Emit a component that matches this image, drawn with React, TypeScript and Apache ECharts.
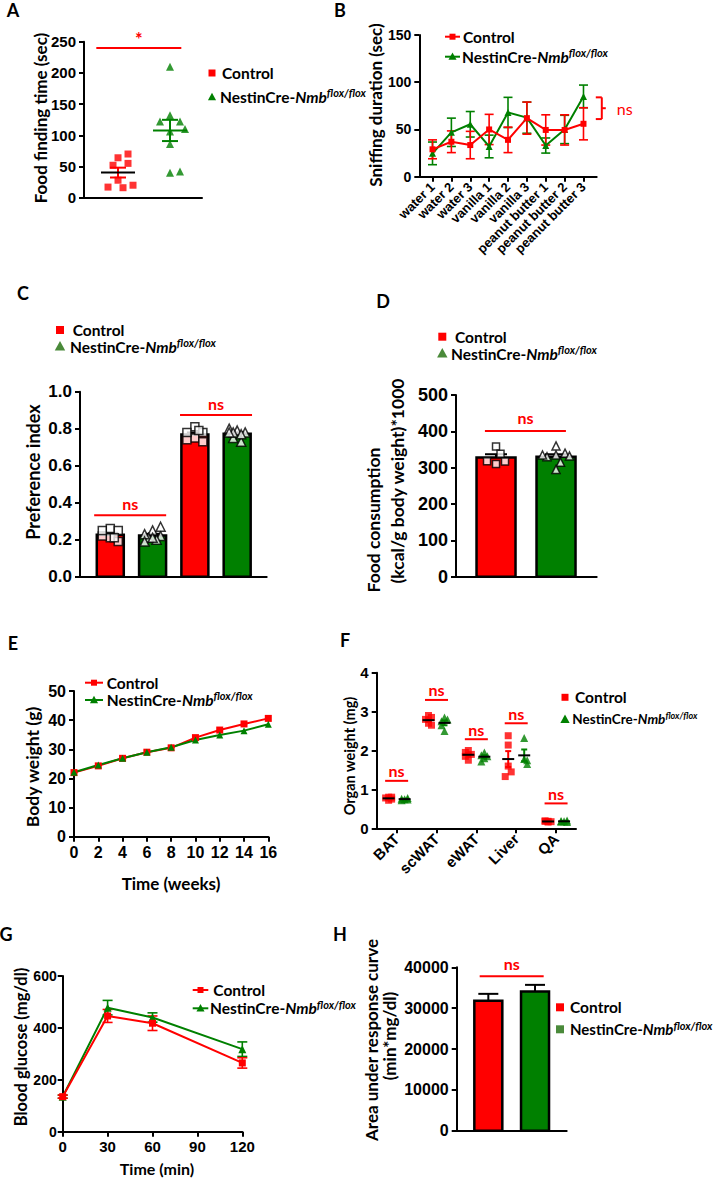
import React, { useEffect, useRef } from 'react';
import * as echarts from 'echarts';

const RED = '#ff0000';
const GREEN = '#008000';
const LEG_GREEN = '#4a8a3a';
const TICK_FONT = '"Liberation Sans", Arial, sans-serif';
const LABEL_FONT = 'Lato, "Open Sans", sans-serif';

// ---------- Panel A: food finding time (sec) ----------
const A_CONTROL = [64, 70, 55, 52, 28, 16, 17, 20];
const A_NESTIN = [210, 132, 122, 122, 106, 110, 86, 40, 42];

// ---------- Panel B: sniffing duration (sec) ----------
const B_CATEGORIES = ['water 1', 'water 2', 'water 3', 'vanilla 1', 'vanilla 2', 'vanilla 3', 'peanut butter 1', 'peanut butter 2', 'peanut butter 3'];
const B_CONTROL_MEAN = [29, 37, 33.5, 50, 39, 62, 49.5, 49.5, 56];
const B_CONTROL_SEM = [10, 11.5, 14.5, 16, 13.5, 17, 16, 16, 17];
const B_NESTIN_MEAN = [24.7, 47, 55.5, 32, 68, 62.5, 33, 50, 85];
const B_NESTIN_SEM = [12, 15, 13.5, 12, 16, 16.5, 8, 15, 12];
const B_BRACKET = [84, 61];

// ---------- Panel C: preference index ----------
const C_CONTROL_1 = [0.26, 0.21, 0.25, 0.22, 0.25, 0.19, 0.21];
const C_NESTIN_1 = [0.25, 0.22, 0.27, 0.21, 0.23, 0.2, 0.21, 0.19];
const C_CONTROL_2 = [0.81, 0.75, 0.78, 0.74, 0.78, 0.73, 0.79];
const C_NESTIN_2 = [0.79, 0.78, 0.8, 0.75, 0.78, 0.73, 0.77, 0.78];
const C_SIG = [[0.47, 0.332], [2.5, 0.874]];

// ---------- Panel D: food consumption ----------
const D_CONTROL = [310, 358, 338, 317, 318];
const D_NESTIN = [335, 340, 360, 315, 295, 330, 335, 332];
const D_SIG = [[0.49, 401]];

// ---------- Panel E: body weight ----------
const E_WEEKS = [0, 2, 4, 6, 8, 10, 12, 14, 16];
const E_CONTROL = [22, 24.3, 26.9, 29, 30.5, 34, 36.6, 38.7, 40.6];
const E_NESTIN = [22.1, 24.6, 26.9, 29, 30.7, 33.2, 34.9, 36.4, 38.6];

// ---------- Panel F: organ weight ----------
const F_ORGANS = ['BAT', 'scWAT', 'eWAT', 'Liver', 'QA'];
const F_CONTROL = [
  [0.8, 0.75, 0.78, 0.72, 0.8],
  [2.9, 2.85, 2.7, 2.65, 2.8],
  [2.0, 1.9, 1.75, 1.85, 1.95],
  [2.38, 2.14, 1.6, 1.45, 1.33],
  [0.18, 0.17, 0.19, 0.18, 0.16],
];
const F_NESTIN = [
  [0.75, 0.78, 0.72, 0.76, 0.74],
  [2.85, 2.8, 2.5, 2.65, 2.75],
  [1.95, 1.85, 1.72, 1.88, 1.8],
  [2.32, 1.78, 1.65, 1.75],
  [0.18, 0.2, 0.17, 0.19, 0.16],
];
const F_SIG_Y = [1.22, 3.3, 2.29, 2.7, 0.64];

// ---------- Panel G: glucose tolerance ----------
const G_TIMES = [0, 30, 60, 120];
const G_CONTROL_MEAN = [135, 446, 418, 265];
const G_CONTROL_SEM = [6, 25, 28, 20];
const G_NESTIN_MEAN = [135, 478, 440, 318];
const G_NESTIN_SEM = [6, 28, 18, 28];

// ---------- Panel H: AUC ----------
const H_MEANS = [31800, 34100];
const H_SEMS = [1700, 1600];
const H_SIG = [[0.5, 37800]];

const mean = (a: number[]) => a.reduce((s, v) => s + v, 0) / a.length;
const sem = (a: number[]) => {
  const m = mean(a);
  const sd = Math.sqrt(a.reduce((s, v) => s + (v - m) * (v - m), 0) / (a.length - 1));
  return sd / Math.sqrt(a.length);
};

// deterministic beeswarm offsets in pixels, limited to +-maxOff
function swarm(vals: number[], ppu: number, d: number, step: number, maxOff = 999) {
  const placed: number[][] = [];
  return vals.map((v) => {
    const y = v * ppu;
    let best = 0;
    let bestDist = -1;
    for (let t = 0; t < 80; t++) {
      const c = t === 0 ? 0 : (t % 2 ? 1 : -1) * Math.ceil(t / 2) * step;
      if (Math.abs(c) > maxOff) break;
      const md = placed.length ? Math.min(...placed.map((p) => Math.hypot(p[0] - c, p[1] - y))) : 1e9;
      if (md >= d) {
        best = c;
        break;
      }
      if (md > bestDist) {
        bestDist = md;
        best = c;
      }
    }
    placed.push([best, y]);
    return best;
  });
}

const GRIDS = [
  { left: 84, top: 41.7, width: 118, height: 156 },
  { left: 419.3, top: 35, width: 177.4, height: 141.7 },
  { left: 80, top: 391.7, width: 186.7, height: 185 },
  { left: 456, top: 395, width: 140.7, height: 181.7 },
  { left: 74, top: 691, width: 194.3, height: 145.7 },
  { left: 376.7, top: 672.7, width: 199.3, height: 155.6 },
  { left: 62.7, top: 976, width: 179.6, height: 155.7 },
  { left: 456.7, top: 967.3, width: 110, height: 163.4 },
];

const axisLine = { show: true, onZero: false, lineStyle: { color: '#000', width: 2 } };
const axisTick = { show: true, length: 5, lineStyle: { color: '#000', width: 2 } };
const tickLabel = (fs: number, extra: any = {}) => ({
  show: true, color: '#000', fontSize: fs, fontWeight: 'bold', fontFamily: TICK_FONT, margin: 8, ...extra,
});

function valY(gi: number, min: number, max: number, interval: number, fs: number, fmt?: any, margin = 8) {
  return {
    type: 'value', gridIndex: gi, min, max, interval,
    axisLine, axisTick, axisLabel: tickLabel(fs, { margin, formatter: fmt || ((v: number) => String(v)) }),
    splitLine: { show: false },
  };
}
function bareX(gi: number, min: number, max: number) {
  return {
    type: 'value', gridIndex: gi, min, max,
    axisLine, axisTick: { show: false }, axisLabel: { show: false }, splitLine: { show: false },
  };
}

// ---------- render helpers ----------
const meanSemRender = (semColor: string, meanColor: string, halfW: number, capW: number, offPx: number) =>
  (params: any, api: any) => {
    const x = api.value(0), m = api.value(1), s = api.value(2);
    const pm = api.coord([x, m]);
    const pt = api.coord([x, m + s]);
    const pb = api.coord([x, m - s]);
    const cx = pm[0] + offPx;
    const st = (c: string) => ({ stroke: c, lineWidth: 2 });
    return {
      type: 'group',
      children: [
        { type: 'line', shape: { x1: cx, y1: pt[1], x2: cx, y2: pb[1] }, style: st(semColor) },
        { type: 'line', shape: { x1: cx - capW, y1: pt[1], x2: cx + capW, y2: pt[1] }, style: st(semColor) },
        { type: 'line', shape: { x1: cx - capW, y1: pb[1], x2: cx + capW, y2: pb[1] }, style: st(semColor) },
        { type: 'line', shape: { x1: cx - halfW, y1: pm[1], x2: cx + halfW, y2: pm[1] }, style: st(meanColor) },
      ],
    };
  };

const barRender = (halfW: number, colors: string[], bw: number) => (params: any, api: any) => {
  const x = api.value(0), v = api.value(1);
  const p0 = api.coord([x, 0]);
  const p1 = api.coord([x, v]);
  return {
    type: 'rect',
    shape: { x: p0[0] - halfW, y: p1[1], width: halfW * 2, height: p0[1] - p1[1] },
    style: { fill: colors[params.dataIndex % colors.length], stroke: '#000', lineWidth: bw },
  };
};

const upErrRender = (capW: number) => (params: any, api: any) => {
  const x = api.value(0), m = api.value(1), s = api.value(2);
  const pm = api.coord([x, m]);
  const pt = api.coord([x, m + s]);
  return {
    type: 'group',
    children: [
      { type: 'line', shape: { x1: pm[0], y1: pm[1], x2: pm[0], y2: pt[1] }, style: { stroke: '#000', lineWidth: 2 } },
      { type: 'line', shape: { x1: pm[0] - capW, y1: pt[1], x2: pm[0] + capW, y2: pt[1] }, style: { stroke: '#000', lineWidth: 2 } },
    ],
  };
};

const errRender = (color: string, capW: number) => (params: any, api: any) => {
  const x = api.value(0), m = api.value(1), s = api.value(2);
  const pt = api.coord([x, m + s]);
  const pb = api.coord([x, m - s]);
  const st = { stroke: color, lineWidth: 1.6 };
  return {
    type: 'group',
    children: [
      { type: 'line', shape: { x1: pt[0], y1: pt[1], x2: pb[0], y2: pb[1] }, style: st },
      { type: 'line', shape: { x1: pt[0] - capW, y1: pt[1], x2: pt[0] + capW, y2: pt[1] }, style: st },
      { type: 'line', shape: { x1: pb[0] - capW, y1: pb[1], x2: pb[0] + capW, y2: pb[1] }, style: st },
    ],
  };
};

const sigRender = (txt: string, halfPx: number, gap: number, fs: number) => (params: any, api: any) => {
  const c = api.value(0), y = api.value(1);
  const p = api.coord([c, y]);
  return {
    type: 'group',
    children: [
      { type: 'line', shape: { x1: p[0] - halfPx, y1: p[1], x2: p[0] + halfPx, y2: p[1] }, style: { stroke: RED, lineWidth: 2 } },
      {
        type: 'text', x: p[0], y: p[1] - gap,
        style: { text: txt, fill: RED, fontSize: fs, fontWeight: 'bold', fontFamily: LABEL_FONT, align: 'center', verticalAlign: 'middle' },
      },
    ],
  };
};

const bracketRender = (params: any, api: any) => {
  const x = api.value(0), y1 = api.value(1), y2 = api.value(2);
  const a = api.coord([x, y1]);
  const b = api.coord([x, y2]);
  const mid = (a[1] + b[1]) / 2;
  const st = { stroke: RED, lineWidth: 2 };
  return {
    type: 'group',
    children: [
      { type: 'line', shape: { x1: a[0], y1: a[1], x2: b[0], y2: b[1] }, style: st },
      { type: 'line', shape: { x1: a[0] - 6, y1: a[1], x2: a[0], y2: a[1] }, style: st },
      { type: 'line', shape: { x1: b[0] - 6, y1: b[1], x2: b[0], y2: b[1] }, style: st },
      { type: 'line', shape: { x1: a[0], y1: mid, x2: a[0] + 4, y2: mid }, style: st },
      {
        type: 'text', x: a[0] + 15, y: mid,
        style: { text: 'ns', fill: RED, fontSize: 16, fontFamily: LABEL_FONT, fontWeight: 'normal', align: 'left', verticalAlign: 'middle' },
      },
    ],
  };
};

// ---------- graphic helpers ----------
const txt = (t: string, x: number, y: number, fs: number, opts: any = {}) => ({
  type: 'text', x, y, rotation: opts.rot ? Math.PI / 2 : 0,
  style: {
    text: t, fontSize: fs, fontWeight: 'bold', fontFamily: LABEL_FONT, fill: opts.color || '#000',
    align: opts.align || 'center', verticalAlign: 'middle',
  },
});
const nestin = (x: number, y: number, fs: number) => ({
  type: 'text', x, y,
  style: {
    text: '{a|NestinCre-}{b|Nmb}{c|flox/flox}', align: 'left', verticalAlign: 'middle',
    rich: {
      a: { fontSize: fs, fontWeight: 'bold', fontFamily: LABEL_FONT, fill: '#000', lineHeight: fs + 4 },
      b: { fontSize: fs, fontWeight: 'bold', fontStyle: 'italic', fontFamily: LABEL_FONT, fill: '#000', lineHeight: fs + 4 },
      c: { fontSize: Math.round(fs * 0.7), fontWeight: 'bold', fontStyle: 'italic', fontFamily: LABEL_FONT, fill: '#000', lineHeight: Math.round(fs * 0.7), verticalAlign: 'top' },
    },
  },
});
const sq = (x: number, y: number, s: number, color: string) => ({
  type: 'rect', shape: { x: x - s / 2, y: y - s / 2, width: s, height: s }, style: { fill: color },
});
const tri = (x: number, y: number, s: number, color: string) => ({
  type: 'polygon', shape: { points: [[x, y - s * 0.6], [x - s * 0.58, y + s * 0.45], [x + s * 0.58, y + s * 0.45]] }, style: { fill: color },
});
const lineLeg = (x1: number, x2: number, y: number, color: string, marker: 'sq' | 'tri') => [
  { type: 'line', shape: { x1, y1: y, x2, y2: y }, style: { stroke: color, lineWidth: 2 } },
  marker === 'sq' ? sq((x1 + x2) / 2, y, 6, color) : tri((x1 + x2) / 2, y, 7, color),
];

function buildOption() {
  const idx = B_CATEGORIES.map((_, i) => i);

  const aPpu = 156 / 250;
  const aCtrlOff = swarm(A_CONTROL, aPpu, 9, 5, 16);
  const aNesOff = swarm(A_NESTIN, aPpu, 9, 5, 16);

  const cGroups = [C_CONTROL_1, C_NESTIN_1, C_CONTROL_2, C_NESTIN_2];
  const cPpu = 185;
  const dGroups = [D_CONTROL, D_NESTIN];
  const dPpu = 181.7 / 500;
  const fPpu = 155.6 / 4;

  const series: any[] = [];

  // ---- A ----
  series.push({
    type: 'scatter', xAxisIndex: 0, yAxisIndex: 0, symbol: 'rect', symbolSize: 7, itemStyle: { color: RED },
    data: A_CONTROL.map((v, i) => ({ value: [0, v], symbolOffset: [aCtrlOff[i], 0] })),
  });
  series.push({
    type: 'scatter', xAxisIndex: 0, yAxisIndex: 0, symbol: 'triangle', symbolSize: 8, itemStyle: { color: GREEN },
    data: A_NESTIN.map((v, i) => ({ value: [1, v], symbolOffset: [aNesOff[i], 0] })),
  });
  series.push({
    type: 'custom', xAxisIndex: 0, yAxisIndex: 0, z: 5, renderItem: meanSemRender(RED, '#000', 17, 8, 0),
    data: [[0, mean(A_CONTROL), sem(A_CONTROL)]],
  });
  series.push({
    type: 'custom', xAxisIndex: 0, yAxisIndex: 0, z: 5, renderItem: meanSemRender(GREEN, GREEN, 17, 8, 0),
    data: [[1, mean(A_NESTIN), sem(A_NESTIN)]],
  });
  series.push({
    type: 'custom', xAxisIndex: 0, yAxisIndex: 0, renderItem: sigRender('*', 42.5, 9, 18),
    data: [[0.4, 240]],
  });

  // ---- B ----
  series.push({
    type: 'custom', xAxisIndex: 1, yAxisIndex: 1, renderItem: errRender(GREEN, 4.5),
    data: idx.map((i) => [i, B_NESTIN_MEAN[i], B_NESTIN_SEM[i]]),
  });
  series.push({
    type: 'line', xAxisIndex: 1, yAxisIndex: 1, symbol: 'triangle', symbolSize: 7,
    lineStyle: { color: GREEN, width: 2 }, itemStyle: { color: GREEN },
    data: idx.map((i) => [i, B_NESTIN_MEAN[i]]),
  });
  series.push({
    type: 'custom', xAxisIndex: 1, yAxisIndex: 1, renderItem: errRender(RED, 4.5),
    data: idx.map((i) => [i, B_CONTROL_MEAN[i], B_CONTROL_SEM[i]]),
  });
  series.push({
    type: 'line', xAxisIndex: 1, yAxisIndex: 1, symbol: 'rect', symbolSize: 6,
    lineStyle: { color: RED, width: 2 }, itemStyle: { color: RED },
    data: idx.map((i) => [i, B_CONTROL_MEAN[i]]),
  });
  series.push({
    type: 'custom', xAxisIndex: 1, yAxisIndex: 1, renderItem: bracketRender,
    data: [[8.97, B_BRACKET[0], B_BRACKET[1]]],
  });

  // ---- C ----
  series.push({
    type: 'custom', xAxisIndex: 2, yAxisIndex: 2, renderItem: barRender(13.5, [RED, GREEN], 2.5),
    data: cGroups.map((g, i) => [i, mean(g)]),
  });
  series.push({
    type: 'custom', xAxisIndex: 2, yAxisIndex: 2, renderItem: upErrRender(8),
    data: cGroups.map((g, i) => [i, mean(g), sem(g)]),
  });
  cGroups.forEach((g, gi) => {
    const off = swarm(g, cPpu, 8, 4, 10);
    series.push({
      type: 'scatter', xAxisIndex: 2, yAxisIndex: 2, symbol: gi % 2 === 0 ? 'rect' : 'triangle',
      symbolSize: gi % 2 === 0 ? 8 : 9, z: 4,
      itemStyle: { color: '#fff', borderColor: '#000', borderWidth: 1.5 },
      data: g.map((v, i) => ({ value: [gi, v], symbolOffset: [off[i], 0] })),
    });
  });
  series.push({
    type: 'custom', xAxisIndex: 2, yAxisIndex: 2, renderItem: sigRender('ns', 36, 12, 16),
    data: C_SIG,
  });

  // ---- D ----
  series.push({
    type: 'custom', xAxisIndex: 3, yAxisIndex: 3, renderItem: barRender(19.5, [RED, GREEN], 2.5),
    data: dGroups.map((g, i) => [i, mean(g)]),
  });
  series.push({
    type: 'custom', xAxisIndex: 3, yAxisIndex: 3, renderItem: upErrRender(11),
    data: dGroups.map((g, i) => [i, mean(g), sem(g)]),
  });
  dGroups.forEach((g, gi) => {
    const off = swarm(g, dPpu, 8, 4.5, 14);
    series.push({
      type: 'scatter', xAxisIndex: 3, yAxisIndex: 3, symbol: gi === 0 ? 'rect' : 'triangle',
      symbolSize: gi === 0 ? 7 : 8, z: 4,
      itemStyle: { color: '#fff', borderColor: '#000', borderWidth: 1.5 },
      data: g.map((v, i) => ({ value: [gi, v], symbolOffset: [off[i], 0] })),
    });
  });
  series.push({
    type: 'custom', xAxisIndex: 3, yAxisIndex: 3, renderItem: sigRender('ns', 40.5, 13, 16),
    data: D_SIG,
  });

  // ---- E ----
  series.push({
    type: 'line', xAxisIndex: 4, yAxisIndex: 4, symbol: 'rect', symbolSize: 7,
    lineStyle: { color: RED, width: 2 }, itemStyle: { color: RED },
    data: E_WEEKS.map((w, i) => [w, E_CONTROL[i]]),
  });
  series.push({
    type: 'line', xAxisIndex: 4, yAxisIndex: 4, symbol: 'triangle', symbolSize: 7,
    lineStyle: { color: GREEN, width: 2 }, itemStyle: { color: GREEN },
    data: E_WEEKS.map((w, i) => [w, E_NESTIN[i]]),
  });

  // ---- F ----
  const fCtrlPts: any[] = [];
  const fNesPts: any[] = [];
  F_ORGANS.forEach((_, ci) => {
    const oc = swarm(F_CONTROL[ci], fPpu, 6, 3, 5);
    F_CONTROL[ci].forEach((v, i) => fCtrlPts.push({ value: [ci, v], symbolOffset: [oc[i] - 8, 0] }));
    const on = swarm(F_NESTIN[ci], fPpu, 6, 3, 5);
    F_NESTIN[ci].forEach((v, i) => fNesPts.push({ value: [ci, v], symbolOffset: [on[i] + 8, 0] }));
  });
  series.push({
    type: 'scatter', xAxisIndex: 5, yAxisIndex: 5, symbol: 'rect', symbolSize: 7, itemStyle: { color: RED },
    data: fCtrlPts,
  });
  series.push({
    type: 'scatter', xAxisIndex: 5, yAxisIndex: 5, symbol: 'triangle', symbolSize: 8, itemStyle: { color: GREEN },
    data: fNesPts,
  });
  series.push({
    type: 'custom', xAxisIndex: 5, yAxisIndex: 5, z: 5, renderItem: meanSemRender(RED, '#000', 6, 3, -8),
    data: F_CONTROL.map((g, i) => [i, mean(g), sem(g)]),
  });
  series.push({
    type: 'custom', xAxisIndex: 5, yAxisIndex: 5, z: 5, renderItem: meanSemRender(GREEN, '#000', 6, 3, 8),
    data: F_NESTIN.map((g, i) => [i, mean(g), sem(g)]),
  });
  series.push({
    type: 'custom', xAxisIndex: 5, yAxisIndex: 5, renderItem: sigRender('ns', 11.5, 10, 16),
    data: F_SIG_Y.map((y, i) => [i, y]),
  });

  // ---- G ----
  series.push({
    type: 'custom', xAxisIndex: 6, yAxisIndex: 6, renderItem: errRender(GREEN, 5),
    data: G_TIMES.map((t, i) => [t, G_NESTIN_MEAN[i], G_NESTIN_SEM[i]]),
  });
  series.push({
    type: 'line', xAxisIndex: 6, yAxisIndex: 6, symbol: 'triangle', symbolSize: 8,
    lineStyle: { color: GREEN, width: 2 }, itemStyle: { color: GREEN },
    data: G_TIMES.map((t, i) => [t, G_NESTIN_MEAN[i]]),
  });
  series.push({
    type: 'custom', xAxisIndex: 6, yAxisIndex: 6, renderItem: errRender(RED, 5),
    data: G_TIMES.map((t, i) => [t, G_CONTROL_MEAN[i], G_CONTROL_SEM[i]]),
  });
  series.push({
    type: 'line', xAxisIndex: 6, yAxisIndex: 6, symbol: 'rect', symbolSize: 7,
    lineStyle: { color: RED, width: 2 }, itemStyle: { color: RED },
    data: G_TIMES.map((t, i) => [t, G_CONTROL_MEAN[i]]),
  });

  // ---- H ----
  series.push({
    type: 'custom', xAxisIndex: 7, yAxisIndex: 7, renderItem: upErrRender(10),
    data: H_MEANS.map((m, i) => [i, m, H_SEMS[i]]),
  });
  series.push({
    type: 'custom', xAxisIndex: 7, yAxisIndex: 7, renderItem: barRender(14, [RED, GREEN], 2.5),
    data: H_MEANS.map((m, i) => [i, m]),
  });
  series.push({
    type: 'custom', xAxisIndex: 7, yAxisIndex: 7, renderItem: sigRender('ns', 32, 13, 16),
    data: H_SIG,
  });

  const xAxis: any[] = [
    bareX(0, -0.654, 1.615),
    {
      type: 'value', gridIndex: 1, min: -0.7, max: 8.7, axisLine,
      axisTick: { ...axisTick, customValues: idx },
      axisLabel: tickLabel(13, { customValues: idx, rotate: 45, margin: 8, formatter: (v: number) => B_CATEGORIES[Math.round(v)] }),
      splitLine: { show: false },
    },
    bareX(2, -0.716, 3.698),
    bareX(3, -0.667, 1.678),
    {
      type: 'value', gridIndex: 4, min: 0, max: 16, interval: 2, axisLine, axisTick,
      axisLabel: tickLabel(16), splitLine: { show: false },
    },
    {
      type: 'category', gridIndex: 5, data: F_ORGANS, boundaryGap: true, axisLine,
      axisTick: { ...axisTick, alignWithLabel: true },
      axisLabel: tickLabel(15, { rotate: 45, interval: 0 }), splitLine: { show: false },
    },
    {
      type: 'value', gridIndex: 6, min: 0, max: 120, interval: 30, axisLine, axisTick,
      axisLabel: tickLabel(15, { margin: 7 }), splitLine: { show: false },
    },
    bareX(7, -0.677, 1.678),
  ];

  const yAxis: any[] = [
    valY(0, 0, 250, 50, 15),
    valY(1, 0, 150, 50, 14),
    valY(2, 0, 1, 0.2, 17, (v: number) => v.toFixed(1)),
    valY(3, 0, 500, 100, 18),
    valY(4, 0, 50, 10, 16),
    valY(5, 0, 4, 1, 15),
    valY(6, 0, 600, 200, 14, undefined, 6),
    valY(7, 0, 40000, 10000, 16),
  ];

  const graphic: any[] = [
    // panel letters
    txt('A', 13, 10, 18), txt('B', 340, 10, 18), txt('C', 23, 293, 18), txt('D', 383, 301, 18),
    txt('E', 13, 643, 18), txt('F', 345, 640, 18), txt('G', 6, 934, 18), txt('H', 340, 934, 18),
    // y labels
    txt('Food finding time (sec)', 40, 118, 17, { rot: true }),
    txt('Sniffing duration (sec)', 375, 105, 17, { rot: true }),
    txt('Preference index', 33, 472, 18, { rot: true }),
    txt('Food consumption', 373, 520, 17.5, { rot: true }),
    txt('(kcal/g body weight)*1000', 397, 481, 17.5, { rot: true }),
    txt('Body weight (g)', 32, 767, 17.5, { rot: true }),
    txt('Organ weight (mg)', 349, 756, 14.5, { rot: true }),
    txt('Blood glucose (mg/dl)', 21, 1047, 16.5, { rot: true }),
    txt('Area under response curve', 371, 1040, 17, { rot: true }),
    txt('(min*mg/dl)', 389, 1036, 17, { rot: true }),
    // x labels
    txt('Time (weeks)', 171, 883, 17),
    txt('Time (min)', 157, 1168, 16),
    // legend A
    sq(212, 73, 7, RED), txt('Control', 222, 73, 15.5, { align: 'left' }),
    tri(212, 97, 7, GREEN), nestin(220, 97, 15.5),
    // legend B
    ...lineLeg(445, 460, 36.7, RED, 'sq'), txt('Control', 463, 36.7, 15.5, { align: 'left' }),
    ...lineLeg(445, 460, 56.7, GREEN, 'tri'), nestin(462, 56.7, 15.5),
    // legend C
    sq(60, 330, 8, RED), txt('Control', 72.7, 330, 15.5, { align: 'left' }),
    tri(60, 346.5, 9, LEG_GREEN), nestin(70, 346.5, 15.5),
    // legend D
    sq(442.3, 336.7, 8, RED), txt('Control', 455, 336.7, 15.5, { align: 'left' }),
    tri(442.3, 353.5, 9, LEG_GREEN), nestin(451, 353.5, 15.5),
    // legend E
    ...lineLeg(85, 103, 682.7, RED, 'sq'), txt('Control', 106.7, 682.7, 15.5, { align: 'left' }),
    ...lineLeg(85, 103, 700, GREEN, 'tri'), nestin(106.7, 700, 15.5),
    // legend F
    sq(565, 697.3, 7, RED), txt('Control', 575, 697.3, 15.5, { align: 'left' }),
    tri(565, 719.3, 8, GREEN), nestin(572.3, 719.3, 13.5),
    // legend G
    ...lineLeg(192.7, 208.3, 990, RED, 'sq'), txt('Control', 213.3, 990, 15.5, { align: 'left' }),
    ...lineLeg(192.7, 208.3, 1008.3, GREEN, 'tri'), nestin(210, 1008.3, 15.5),
    // legend H
    sq(560, 1007.3, 8, RED), txt('Control', 570, 1007.3, 15.5, { align: 'left' }),
    sq(560, 1029.3, 8, LEG_GREEN), nestin(570, 1029.3, 15),
  ];

  return {
    animation: false,
    backgroundColor: '#fff',
    grid: GRIDS.map((g) => ({ ...g, containLabel: false })),
    xAxis,
    yAxis,
    series,
    graphic: { elements: graphic },
  };
}

export default function App() {
  const ref = useRef<HTMLDivElement>(null);
  useEffect(() => {
    if (!ref.current) return;
    const chart = echarts.init(ref.current, null, { renderer: 'svg' });
    chart.setOption(buildOption() as any);
    return () => chart.dispose();
  }, []);
  return (
    <div
      ref={ref}
      style={{ position: 'absolute', left: 0, top: 0, width: 713, height: 1180, background: '#fff' }}
    />
  );
}
